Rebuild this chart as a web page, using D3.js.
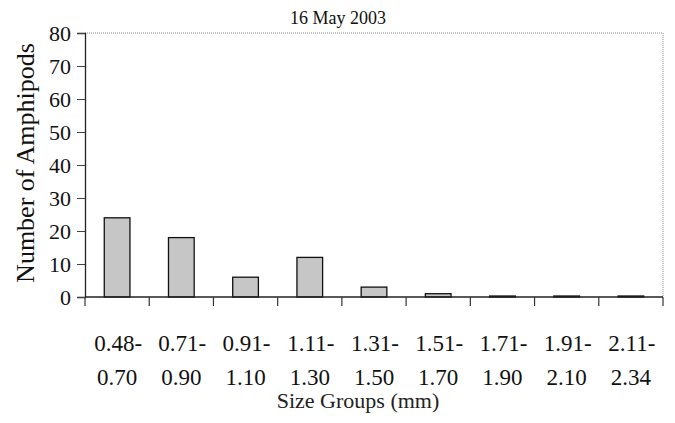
<!DOCTYPE html>
<html><head><meta charset="utf-8">
<script src="https://cdn.jsdelivr.net/npm/d3@7/dist/d3.min.js"></script>
<style>body{margin:0;background:#fff}svg{display:block}</style>
</head><body>
<svg id="c" width="675" height="423"></svg>
<script>
const categoriesTop = ["0.48-","0.71-","0.91-","1.11-","1.31-","1.51-","1.71-","1.91-","2.11-"];
const categoriesBottom = ["0.70","0.90","1.10","1.30","1.50","1.70","1.90","2.10","2.34"];
const counts = [24, 18, 6, 12, 3, 1, 0.3, 0.3, 0.3];
const yTicks = [0,10,20,30,40,50,60,70,80];
const titleText = "16 May 2003";
const xTitle = "Size Groups (mm)";
const yTitle = "Number of Amphipods";

const svg = d3.select("#c");
const m = {l:85, r:663, t:33, b:297};
const font = "'Liberation Serif','Times New Roman',serif";
const idx = d3.range(categoriesTop.length);
const x = d3.scaleBand().domain(idx).range([m.l, m.r]).paddingInner(0.6).paddingOuter(0.3);
const y = d3.scaleLinear().domain([0,80]).range([m.b, m.t]);

// frame (top/right dotted)
svg.append("line").attr("x1",m.l).attr("x2",m.r).attr("y1",m.t).attr("y2",m.t)
  .attr("stroke","#888").attr("stroke-dasharray","1,1");
svg.append("line").attr("x1",m.r).attr("x2",m.r).attr("y1",m.t).attr("y2",m.b)
  .attr("stroke","#888").attr("stroke-dasharray","1,1");

// bars
svg.append("g").selectAll("rect").data(idx).join("rect")
  .attr("x", i=>x(i)).attr("width", x.bandwidth())
  .attr("y", i=>y(counts[i])).attr("height", i=>y(0)-y(counts[i]))
  .attr("fill","#c6c6c6").attr("stroke","#111").attr("stroke-width",1.3);

// y axis
const ya = svg.append("g").attr("transform",`translate(${m.l},0)`)
  .call(d3.axisLeft(y).tickValues(yTicks).tickSize(8).tickPadding(6));
ya.select(".domain").attr("stroke","#222").attr("stroke-width",1.3);
ya.selectAll(".tick line").attr("stroke","#444");
ya.selectAll("text").attr("font-family",font).attr("font-size",22).attr("fill","#111");

// x axis ticks at band boundaries
const bounds = d3.range(categoriesTop.length+1).map(i => m.l + i*(m.r-m.l)/categoriesTop.length);
svg.append("line").attr("x1",m.l).attr("x2",m.r).attr("y1",m.b).attr("y2",m.b)
  .attr("stroke","#222").attr("stroke-width",1.3);
svg.append("g").selectAll("line").data(bounds).join("line")
  .attr("x1",d=>d).attr("x2",d=>d).attr("y1",m.b).attr("y2",m.b+9)
  .attr("stroke","#333").attr("stroke-width",1.2);

// x labels
const xl = svg.append("g").attr("font-family",font).attr("font-size",23).attr("fill","#111").attr("text-anchor","middle");
xl.selectAll("text.t").data(idx).join("text").attr("class","t")
  .attr("x", i=>x(i)+x.bandwidth()/2+1).attr("y",351).text(i=>categoriesTop[i]);
xl.selectAll("text.b").data(idx).join("text").attr("class","b")
  .attr("x", i=>x(i)+x.bandwidth()/2).attr("y",385).text(i=>categoriesBottom[i]);

svg.append("text").attr("x",358).attr("y",408).attr("text-anchor","middle")
  .attr("font-family",font).attr("font-size",22).attr("fill","#222").text(xTitle);

svg.append("text").attr("transform",`translate(34,163) rotate(-90)`).attr("text-anchor","middle")
  .attr("font-family",font).attr("font-size",26).attr("fill","#111").text(yTitle);

svg.append("text").attr("x",338).attr("y",24).attr("text-anchor","middle")
  .attr("font-family",font).attr("font-size",18).attr("fill","#111").text(titleText);
</script>
</body></html>
